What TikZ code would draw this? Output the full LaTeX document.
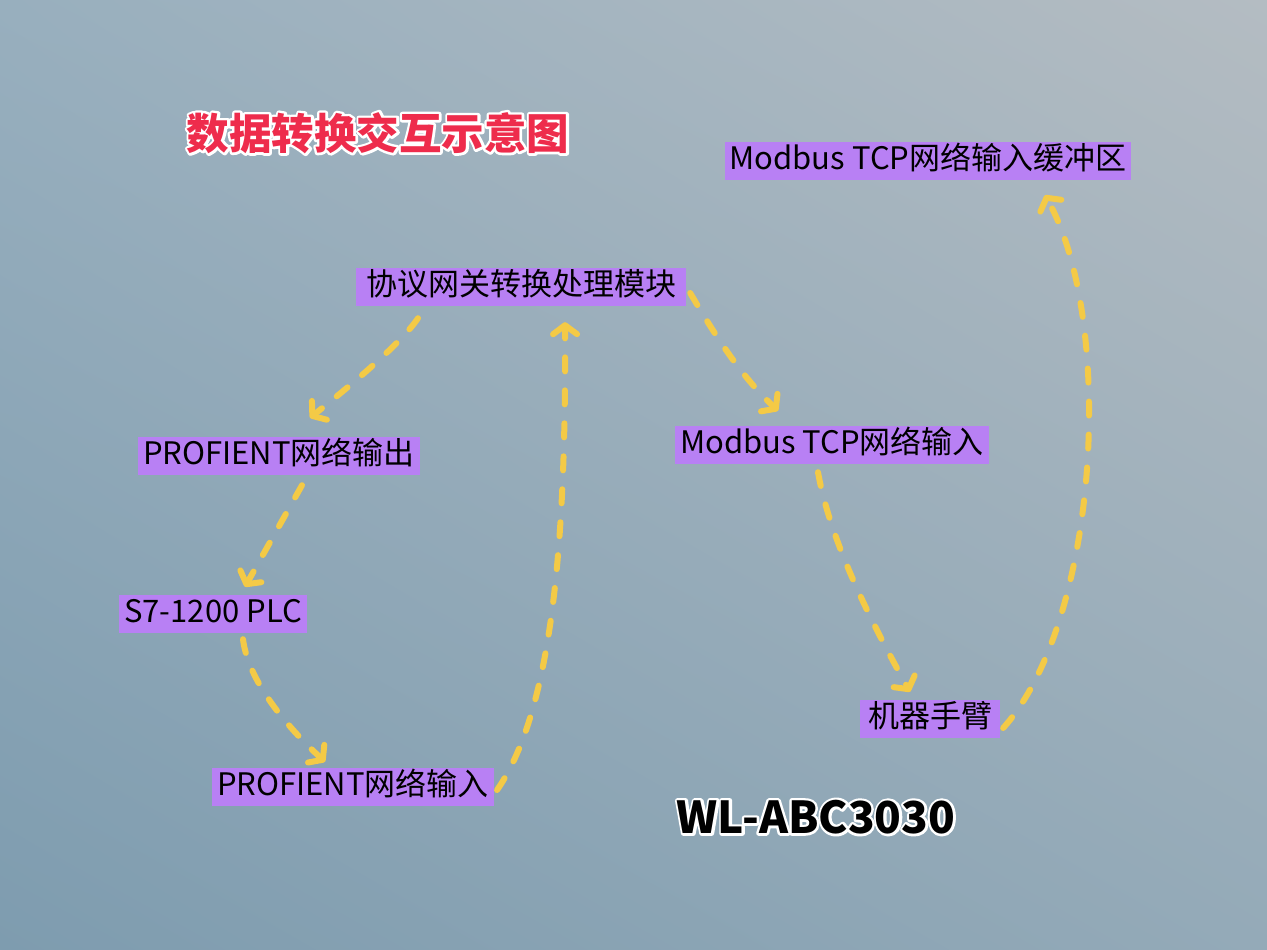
\documentclass[tikz,border=0pt]{standalone}
\usepackage{fontspec}
\newfontfamily\cjk{Noto Sans CJK SC}
\usetikzlibrary{positioning,arrows.meta,shadings}

\definecolor{boxpurple}{RGB}{184,128,244}
\definecolor{flowyellow}{RGB}{244,202,70}
\definecolor{titlered}{RGB}{238,44,76}
\definecolor{bgUL}{RGB}{152,175,190}
\definecolor{bgUR}{RGB}{180,188,194}
\definecolor{bgLL}{RGB}{126,156,175}
\definecolor{bgLR}{RGB}{148,170,184}

% white rim under a text: stroked copy first, plain text on top
\newcommand\rimtext[1]{\leavevmode\rlap{\textcolor{white}{%
  \special{pdf:literal direct 2 Tr 5 w 1 j}#1\special{pdf:literal direct 0 Tr 1 w}}}#1}

\begin{document}
\begin{tikzpicture}
  [x=1pt,y=-1pt,
   block/.style={rectangle,fill=boxpurple,inner xsep=5pt,inner ysep=5pt,
                 text height=22pt,text depth=6pt,
                 font={\cjk\fontsize{31pt}{36pt}\selectfont}},
   heading/.style={inner sep=0pt,text=titlered,
                   font={\cjk\bfseries\fontsize{42.5pt}{48pt}\selectfont}},
   model/.style={inner sep=0pt,text=black,
                 font={\cjk\bfseries\fontsize{44pt}{52pt}\selectfont}},
   flow/.style={draw=flowyellow,line width=6pt,line cap=round,
                dash pattern=on 14pt off 19pt,
                -{Straight Barb[length=9pt,width=24pt,round]}}]
  \shade[upper left=bgUL,upper right=bgUR,lower left=bgLL,lower right=bgLR]
    (0,0) rectangle (1267,950);
  \useasboundingbox (0,0) rectangle (1267,950);

  \node[block,inner xsep=10pt]
                 (gateway) at (521,287)                      {协议网关转换处理模块};
  \node[heading] (title)   [above left=154pt and 143pt of gateway.center,
                            anchor=center]                   {\rimtext{数据转换交互示意图}};
  \node[block]   (bufin)   [above right=126pt and 407pt of gateway.center,
                            anchor=center]                   {Modbus TCP网络输入缓冲区};
  \node[block]   (profout) [below left=169pt and 242pt of gateway.center,
                            anchor=center]                   {PROFIENT网络输出};
  \node[block]   (mbin)    [below right=158pt and 311pt of gateway.center,
                            anchor=center]                   {Modbus TCP网络输入};
  \node[block]   (plc)     [below left=158pt and 66pt of profout.center,
                            anchor=center]                   {S7-1200 PLC};
  \node[block]   (profin)  [below right=173pt and 140pt of plc.center,
                            anchor=center]                   {PROFIENT网络输入};
  \node[block,minimum width=140pt]
                 (arm)     [below right=274pt and 98pt of mbin.center,
                            anchor=center]                   {机器手臂\hspace{10pt}};
  \node[model]   (device)  [below left=98pt and 114pt of arm.center,
                            anchor=center]                   {\rimtext{WL-ABC3030}};

  % PROFINET side
  \draw[flow] ([xshift=-103pt,yshift=-12pt]gateway.south)
    .. controls (400,345) and (345,390) .. ([xshift=31pt,yshift=19pt]profout.north);
  \draw[flow] ([xshift=23pt,yshift=-10pt]profout.south) -- ([xshift=32pt,yshift=8pt]plc.north);
  \draw[flow] ([xshift=30pt,yshift=-6pt]plc.south)
    .. controls (248,680) and (285,725) .. ([xshift=-28pt,yshift=6pt]profin.north);
  \draw[flow] ([xshift=3pt,yshift=-3pt]profin.east)
    .. controls (556,705) and (566,520) .. ([xshift=44pt,yshift=-16pt]gateway.south);

  % Modbus side
  \draw[flow] ([xshift=4pt,yshift=-6pt]gateway.east)
    .. controls (715,335) and (740,375) .. ([xshift=-54pt,yshift=15pt]mbin.north);
  \draw[flow] ([xshift=-14pt,yshift=-8pt]mbin.south)
    .. controls (830,540) and (870,620) .. ([xshift=-20pt,yshift=8pt]arm.north);
  \draw[flow] ([xshift=3pt,yshift=-9pt]arm.east)
    .. controls (1100,620) and (1115,320) .. ([xshift=117pt,yshift=-15pt]bufin.south);

\end{tikzpicture}
\end{document}
